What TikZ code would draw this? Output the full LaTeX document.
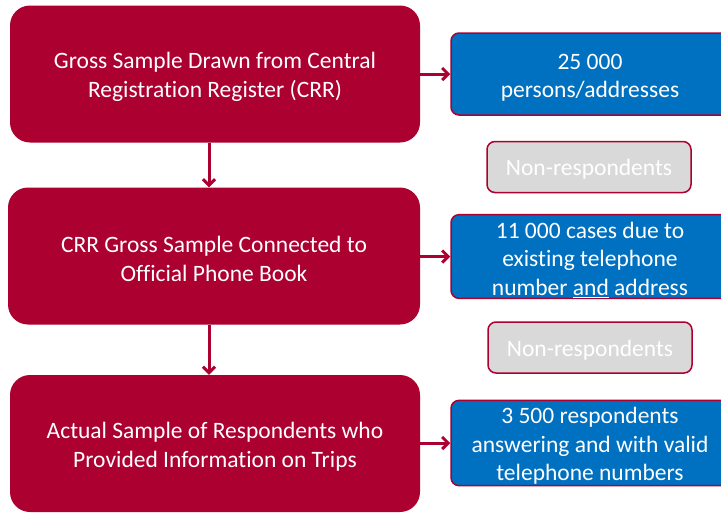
\documentclass[tikz,border=0pt]{standalone}
\usepackage{fontspec}
\setmainfont{Carlito}[Ligatures=NoCommon]
\usepackage{xcolor}
\usetikzlibrary{positioning,arrows.meta}
\definecolor{smred}{HTML}{AC0030}
\definecolor{smblue}{HTML}{0070C0}
\definecolor{smgray}{HTML}{D9D9D9}

\begin{document}
\begin{tikzpicture}[
  x=1pt, y=-1pt,
  font=\fontsize{23.5}{28.5}\selectfont,
  twolines/.style={text height=51pt},
  threelines/.style={text height=79.5pt},
  stage/.style={fill=smred, draw=none, rounded corners=20pt, text=white,
    minimum width=410pt, minimum height=137pt, align=center, twolines},
  count/.style={fill=smblue, draw=smred, line width=1.5pt, rounded corners=8pt,
    text=white, minimum width=278pt, minimum height=82pt, align=center,
    inner sep=1pt},
  nonresp/.style={fill=smgray, draw=smred, line width=1.5pt, rounded corners=8pt,
    text=white, minimum width=204pt, minimum height=51pt, align=center,
    text height=21pt},
  flow/.style={draw=smred, line width=3pt, -{Straight Barb[length=6pt,width=12pt]}},
  ]
  \useasboundingbox (0,0) rectangle (721,512);

  % The three sampling stages.
  \node[stage] (gross) at (215,74) {Gross Sample Drawn from Central\\Registration Register (CRR)};
  \node[stage, minimum width=412pt] (phone) at (214,256) {CRR Gross Sample Connected to\\Official Phone Book};
  \node[stage] (actual) at (215,443.5) {Actual Sample of Respondents who\\Provided Information on Trips};

  % Counts for each stage.
  \node[count, twolines] (c1) at (590,74) {25 000\\persons/addresses};
  \node[count, threelines, minimum height=83pt] (c2) at (590,256.5) {11 000 cases due to\\existing telephone\\number \underline{and} address};
  \node[count, threelines, minimum height=84pt] (c3) at (590,443) {3 500 respondents\\answering and with valid\\telephone numbers};

  % Drop-outs between stages.
  \node[nonresp] (n1) at (589,167) {Non-respondents};
  \node[nonresp] (n2) at (590,347.5) {Non-respondents};

  \draw[flow] (gross.south -| 209,0) -- (phone.north -| 209,0);
  \draw[flow] (phone.south -| 209,0) -- (actual.north -| 209,0);
  \draw[flow] (gross.east) -- (c1.west);
  \draw[flow] (phone.east |- c2.west) -- (c2.west);
  \draw[flow] (actual.east |- c3.west) -- (c3.west);
\end{tikzpicture}
\end{document}
